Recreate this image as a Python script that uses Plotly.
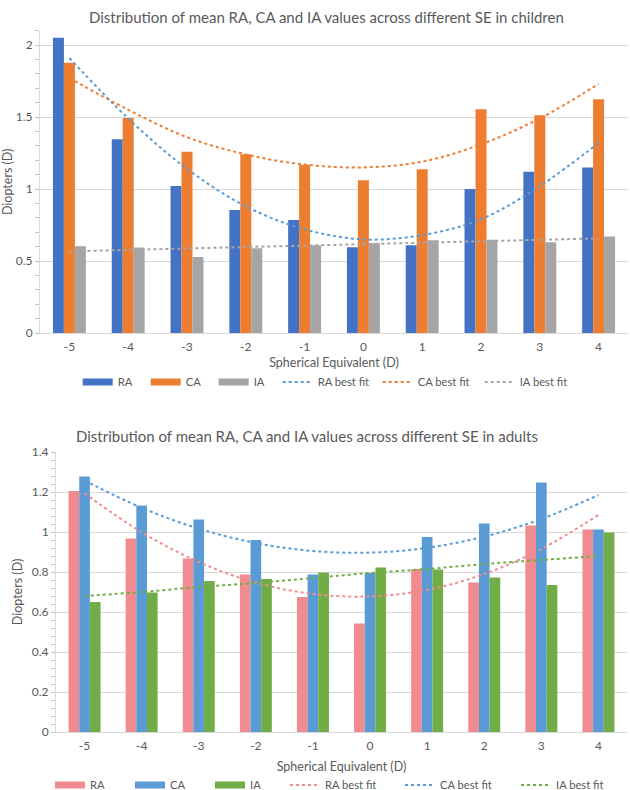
import plotly.graph_objects as go

# ---------------- data ----------------
se = [-5, -4, -3, -2, -1, 0, 1, 2, 3, 4]
se_labels = ["-5", "-4", "-3", "-2", "-1", "0", "1", "2", "3", "4"]

child_ra = [2.05, 1.345, 1.02, 0.855, 0.785, 0.595, 0.61, 1.0, 1.12, 1.15]
child_ca = [1.877, 1.493, 1.259, 1.241, 1.169, 1.06, 1.137, 1.553, 1.512, 1.623]
child_ia = [0.602, 0.593, 0.528, 0.588, 0.609, 0.623, 0.644, 0.648, 0.63, 0.671]
child_ra_fit = [1.91, 1.49, 1.14, 0.88, 0.72, 0.65, 0.68, 0.79, 1.02, 1.32]
child_ca_fit = [1.77, 1.55, 1.36, 1.24, 1.17, 1.15, 1.19, 1.31, 1.49, 1.73]
child_ia_fit = [0.567, 0.577, 0.587, 0.597, 0.607, 0.617, 0.627, 0.637, 0.647, 0.657]

adult_ra = [1.205, 0.968, 0.868, 0.787, 0.675, 0.542, 0.815, 0.747, 1.032, 1.013]
adult_ca = [1.278, 1.132, 1.063, 0.96, 0.788, 0.795, 0.975, 1.042, 1.248, 1.013]
adult_ia = [0.65, 0.698, 0.755, 0.765, 0.798, 0.822, 0.813, 0.773, 0.735, 0.998]
adult_ra_fit = [1.193, 0.999, 0.85, 0.747, 0.69, 0.678, 0.711, 0.79, 0.915, 1.085]
adult_ca_fit = [1.257, 1.121, 1.017, 0.945, 0.905, 0.897, 0.921, 0.977, 1.065, 1.185]
adult_ia_fit = [0.68, 0.70, 0.725, 0.745, 0.77, 0.795, 0.815, 0.84, 0.86, 0.88]

title_child = "Distribution of mean RA, CA and IA values across different SE in children"
title_adult = "Distribution of mean RA, CA and IA values across different SE in adults"

# ---------------- styles ----------------
FONT = "Lato, 'Open Sans', sans-serif"
TXT = "#595959"
GRID = "#d9d9d9"
TICK = "#bfbfbf"

c_blue_dark = "#4472C4"
c_orange = "#ED7D31"
c_gray = "#A5A5A5"
c_blue_light = "#5B9BD5"
c_pink = "#F08C8F"
c_green = "#70AD47"

# legend entry widths (px) per item
child_leg_w = [23, 23, 19, 55, 57, 58]
adult_leg_w = [35, 35, 30, 70, 71, 70]

fig = go.Figure()


def add_group(xa, ya, leg, bars, fits, widths):
    for name, vals, col in bars:
        fig.add_trace(go.Bar(x=se, y=vals, name=name, marker=dict(color=col, line=dict(width=0)),
                             xaxis=xa, yaxis=ya, showlegend=False, hoverinfo="x+y"))
    for i, (name, vals, col) in enumerate(fits):
        fig.add_trace(go.Scatter(x=se, y=vals, name=name, mode="lines",
                                 line=dict(color=col, width=2, dash="dot", shape="spline"),
                                 xaxis=xa, yaxis=ya, legend=leg, showlegend=True,
                                 legendrank=10 + i, legendwidth=widths[3 + i]))
    # legend proxies for bars (wide swatches)
    for i, (name, vals, col) in enumerate(bars):
        fig.add_trace(go.Scatter(x=[None], y=[None], name=name, mode="lines",
                                 line=dict(color=col, width=7), xaxis=xa, yaxis=ya,
                                 legend=leg, legendrank=i + 1, legendwidth=widths[i]))


add_group("x", "y", "legend",
          [("RA", child_ra, c_blue_dark), ("CA", child_ca, c_orange), ("IA", child_ia, c_gray)],
          [("RA best fit", child_ra_fit, c_blue_light), ("CA best fit", child_ca_fit, c_orange),
           ("IA best fit", child_ia_fit, c_gray)], child_leg_w)
add_group("x2", "y2", "legend2",
          [("RA", adult_ra, c_pink), ("CA", adult_ca, c_blue_light), ("IA", adult_ia, c_green)],
          [("RA best fit", adult_ra_fit, c_pink), ("CA best fit", adult_ca_fit, c_blue_light),
           ("IA best fit", adult_ia_fit, c_green)], adult_leg_w)

W, H = 630, 790


def px(p):
    return p / W


def py(p):
    return 1 - p / H


def xaxis_cfg(domain, standoff):
    return dict(domain=domain, range=[-5.5, 4.5], tickvals=se, ticktext=se_labels,
                showline=True, linecolor=GRID, linewidth=1, ticks="", showgrid=False,
                zeroline=False, automargin=False, ticklabelstandoff=3,
                tickfont=dict(size=12, color=TXT, family=FONT),
                title=dict(text="Spherical Equivalent (D)", font=dict(size=12.5, color=TXT, family=FONT),
                           standoff=standoff), fixedrange=True)


def yaxis_cfg(domain, rng, dtick, minor, standoff):
    return dict(domain=domain, range=rng, dtick=dtick, showline=True, linecolor=GRID, linewidth=1,
                ticks="outside", ticklen=4, tickcolor=TICK, tickwidth=1,
                showgrid=True, gridcolor=GRID, gridwidth=1, zeroline=False, automargin=False,
                minor=dict(dtick=minor, ticks="outside", ticklen=4, tickcolor=TICK, showgrid=False),
                tickfont=dict(size=12, color=TXT, family=FONT),
                title=dict(text="Diopters (D)", font=dict(size=12.5, color=TXT, family=FONT),
                           standoff=standoff),
                fixedrange=True)


def yaxis_inside(domain, rng, dtick, minor, over, anchor):
    # companion axis that draws the inner half of the crossing tick marks
    return dict(domain=domain, range=rng, dtick=dtick, overlaying=over, anchor=anchor, side="left",
                showline=False, ticks="inside", ticklen=4, tickcolor=TICK, tickwidth=1,
                showticklabels=False, showgrid=False, zeroline=False, automargin=False,
                minor=dict(dtick=minor, ticks="inside", ticklen=4, tickcolor=TICK, showgrid=False),
                fixedrange=True)


fig.update_layout(
    width=W, height=H,
    margin=dict(l=0, r=0, t=0, b=0, autoexpand=False),
    paper_bgcolor="white", plot_bgcolor="white",
    font=dict(family=FONT, color=TXT),
    barmode="group", bargap=0.44, bargroupgap=0,
    xaxis=dict(anchor="y", **xaxis_cfg([px(40), px(628)], 4)),
    yaxis=dict(anchor="x", **yaxis_cfg([py(333), py(30.6)], [0, 2.1], 0.5, 0.1, 1)),
    yaxis3=yaxis_inside([py(333), py(30.6)], [0, 2.1], 0.5, 0.1, "y", "x"),
    xaxis2=dict(anchor="y2", **xaxis_cfg([px(56), px(627)], 9)),
    yaxis2=dict(anchor="x2", **yaxis_cfg([py(732), py(452)], [0, 1.4], 0.2, 0.04, 6)),
    yaxis4=yaxis_inside([py(732), py(452)], [0, 1.4], 0.2, 0.04, "y2", "x2"),
    legend=dict(orientation="h", x=px(77.7), xanchor="left", y=py(382), yanchor="middle",
                font=dict(size=11.2, color=TXT, family=FONT), itemwidth=30, traceorder="normal",
                bgcolor="rgba(0,0,0,0)"),
    legend2=dict(orientation="h", x=px(50), xanchor="left", y=py(785), yanchor="middle",
                 font=dict(size=11.2, color=TXT, family=FONT), itemwidth=30, traceorder="normal",
                 bgcolor="rgba(0,0,0,0)"),
    annotations=[
        dict(text=title_child, x=px(326), y=py(17), xref="paper", yref="paper", showarrow=False,
             xanchor="center", yanchor="middle", font=dict(size=15, color=TXT, family=FONT)),
        dict(text=title_adult, x=px(307), y=py(436), xref="paper", yref="paper", showarrow=False,
             xanchor="center", yanchor="middle", font=dict(size=15, color=TXT, family=FONT)),
    ],
)

fig.write_html("out.html", config={"displayModeBar": False},
               post_script="document.body.style.margin='0';")
